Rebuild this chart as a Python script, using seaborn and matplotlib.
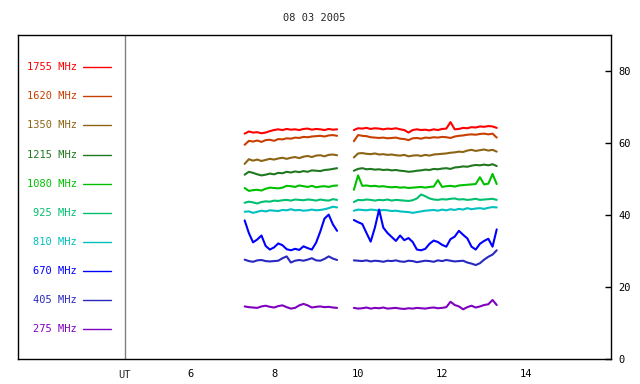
import pandas as pd
import matplotlib
matplotlib.use("Agg")
import matplotlib.pyplot as plt
import matplotlib.transforms as mtransforms
import seaborn as sns

# time grid of the two observing runs (UT hours)
t_run1 = [7.3, 7.4, 7.5, 7.6, 7.7, 7.8, 7.9, 8.0, 8.1, 8.2, 8.3, 8.4,
          8.5, 8.6, 8.7, 8.8, 8.9, 9.0, 9.1, 9.2, 9.3, 9.4, 9.5]
t_run2 = [9.9, 10.0, 10.1, 10.2, 10.3, 10.4, 10.5, 10.6, 10.7, 10.8, 10.9,
          11.0, 11.1, 11.2, 11.3, 11.4, 11.5, 11.6, 11.7, 11.8, 11.9, 12.0,
          12.1, 12.2, 12.3, 12.4, 12.5, 12.6, 12.7, 12.8, 12.9, 13.0, 13.1,
          13.2, 13.3]

freqs = ["1755", "1620", "1350", "1215", "1080", "925", "810", "670", "405", "275"]
colors = ["#ff0000", "#c84000", "#8c6414", "#207820", "#00c000",
          "#00c070", "#00c0c0", "#0000ff", "#2828c0", "#8000c0"]

f1755_a = [62.6, 63.2, 62.9, 63.0, 62.7, 62.9, 63.3, 63.6, 63.8, 63.6, 63.9, 63.7,
           63.8, 63.6, 63.9, 64.0, 63.7, 63.9, 63.8, 63.6, 63.9, 63.7, 63.8]
f1755_b = [63.6, 64.1, 64.0, 64.2, 63.9, 64.1, 64.0, 63.8, 64.0, 63.9, 64.1, 63.8,
           63.6, 62.9, 63.6, 63.8, 63.6, 63.7, 63.5, 63.8, 63.6, 63.9, 64.0, 65.8,
           63.8, 63.9, 64.2, 64.1, 64.4, 64.3, 64.6, 64.5, 64.7, 64.6, 64.2]
f1620_a = [59.5, 60.6, 60.4, 60.7, 60.3, 60.8, 60.9, 60.6, 61.1, 61.0, 61.3, 61.2,
           61.5, 61.4, 61.7, 61.6, 61.8, 61.9, 62.0, 61.8, 62.1, 62.2, 62.0]
f1620_b = [60.5, 62.2, 62.0, 61.9, 61.6, 61.5, 61.4, 61.5, 61.3, 61.4, 61.5, 61.2,
           61.1, 60.8, 61.3, 61.4, 61.2, 61.5, 61.4, 61.6, 61.5, 61.7, 61.6, 61.4,
           61.8, 62.0, 62.1, 62.3, 62.4, 62.3, 62.5, 62.6, 62.4, 62.6, 61.5]
f1350_a = [54.2, 55.5, 55.1, 55.4, 55.0, 55.3, 55.6, 55.4, 55.7, 55.9, 55.6, 55.9,
           56.1, 55.8, 56.2, 56.4, 56.1, 56.5, 56.6, 56.3, 56.7, 56.8, 56.6]
f1350_b = [56.0, 57.1, 57.2, 57.0, 56.9, 57.1, 56.8, 56.9, 56.7, 56.8, 56.6, 56.5,
           56.7, 56.3, 56.5, 56.6, 56.4, 56.7, 56.5, 56.8, 56.9, 57.0, 57.1, 57.3,
           57.4, 57.6, 57.5, 57.9, 58.1, 57.8, 58.0, 58.2, 57.9, 58.1, 57.6]
f1215_a = [51.2, 52.0, 51.7, 51.3, 51.0, 51.2, 51.5, 51.3, 51.7, 51.6, 52.0, 51.8,
           52.1, 51.9, 52.2, 52.0, 52.4, 52.3, 52.2, 52.5, 52.6, 52.8, 53.0]
f1215_b = [52.3, 52.8, 53.0, 52.7, 52.8, 52.6, 52.7, 52.5, 52.6, 52.4, 52.5, 52.3,
           52.2, 52.0, 52.1, 52.3, 52.4, 52.6, 52.5, 52.8, 52.7, 52.9, 53.0, 52.8,
           53.2, 53.3, 53.5, 53.4, 53.7, 53.9, 53.8, 54.0, 53.8, 54.1, 53.6]
f1080_a = [47.5, 46.7, 46.9, 47.0, 46.8, 47.3, 47.6, 47.5, 47.4, 47.6, 48.1, 48.0,
           47.8, 48.2, 48.0, 47.8, 48.1, 47.7, 47.9, 48.0, 47.8, 48.1, 48.2]
f1080_b = [47.0, 51.0, 48.1, 48.2, 48.0, 48.1, 47.9, 48.0, 47.8, 47.7, 47.8, 47.6,
           47.7, 47.5, 47.6, 47.7, 47.8, 47.6, 47.8, 47.9, 49.7, 47.8, 48.0, 48.1,
           47.9, 48.2, 48.3, 48.4, 48.5, 48.6, 50.5, 48.5, 48.7, 51.4, 48.6]
f925_a = [43.4, 43.7, 43.5, 43.2, 43.6, 43.8, 43.7, 44.0, 43.9, 44.1, 44.2, 44.0,
          44.3, 44.2, 44.1, 44.3, 44.2, 44.0, 44.3, 44.1, 44.0, 44.4, 44.2]
f925_b = [43.6, 44.2, 44.1, 44.3, 44.2, 44.0, 44.2, 44.1, 44.3, 44.0, 44.2, 44.1,
          44.0, 43.9, 44.1, 44.6, 45.7, 45.2, 44.6, 44.3, 44.2, 44.4, 44.3, 44.5,
          44.6, 44.3, 44.4, 44.2, 44.3, 44.5, 44.2, 44.3, 44.4, 44.5, 44.2]
f810_a = [40.9, 41.0, 40.6, 40.9, 41.2, 41.0, 41.3, 41.2, 41.1, 41.4, 41.3, 41.6,
          41.3, 41.4, 41.2, 41.3, 41.5, 41.3, 41.4, 41.6, 41.9, 42.3, 42.1]
f810_b = [41.2, 41.5, 41.4, 41.3, 41.5, 41.4, 41.2, 41.4, 41.3, 41.1, 41.2, 41.0,
          40.9, 40.8, 40.6, 40.8, 41.0, 41.2, 41.3, 41.4, 41.2, 41.5, 41.3, 41.6,
          41.4, 41.7, 41.5, 41.9, 41.6, 41.8, 41.9, 41.7, 42.0, 42.2, 42.1]
f670_a = [38.5, 35.0, 32.4, 33.2, 34.3, 31.4, 30.4, 31.0, 32.1, 31.6, 30.5, 30.2,
          30.6, 30.3, 31.3, 30.8, 30.4, 32.3, 35.4, 39.0, 40.1, 37.4, 35.6]
f670_b = [38.6, 38.0, 37.5, 35.0, 32.6, 36.5, 41.5, 36.5, 35.0, 33.9, 32.8, 34.3,
          33.0, 33.6, 32.5, 30.4, 30.2, 30.6, 32.0, 32.9, 32.5, 31.7, 31.2, 33.3,
          34.0, 35.6, 34.5, 33.5, 31.2, 30.4, 32.0, 32.8, 33.4, 31.2, 36.0]
f405_a = [27.6, 27.2, 27.0, 27.4, 27.5, 27.2, 27.1, 27.2, 27.3, 28.0, 28.5, 26.8,
          27.3, 27.5, 27.3, 27.6, 28.0, 27.4, 27.3, 27.8, 28.5, 27.9, 27.5]
f405_b = [27.4, 27.3, 27.2, 27.4, 27.1, 27.3, 27.2, 27.0, 27.3, 27.2, 27.4, 27.1,
          27.0, 27.3, 27.2, 26.9, 27.1, 27.3, 27.2, 27.0, 27.4, 27.2, 27.5, 27.3,
          27.1, 27.2, 27.3, 26.8, 26.5, 26.1, 26.6, 27.6, 28.4, 29.0, 30.2]
f275_a = [14.6, 14.4, 14.3, 14.2, 14.6, 14.8, 14.5, 14.3, 14.7, 14.9, 14.4, 14.0,
          14.2, 14.9, 15.3, 14.9, 14.3, 14.5, 14.6, 14.4, 14.5, 14.3, 14.2]
f275_b = [14.2, 14.0, 14.1, 14.3, 14.0, 14.2, 14.1, 14.3, 14.0, 14.1, 14.2, 14.0,
          13.9, 14.1, 14.0, 14.2, 14.1, 14.0, 14.2, 14.3, 14.1, 14.2, 14.4, 15.9,
          15.0, 14.6, 13.8, 14.4, 14.8, 14.3, 14.6, 15.0, 15.2, 16.4, 15.0]

runs = {
    "1755": (f1755_a, f1755_b), "1620": (f1620_a, f1620_b),
    "1350": (f1350_a, f1350_b), "1215": (f1215_a, f1215_b),
    "1080": (f1080_a, f1080_b), "925": (f925_a, f925_b),
    "810": (f810_a, f810_b), "670": (f670_a, f670_b),
    "405": (f405_a, f405_b), "275": (f275_a, f275_b),
}

rows = []
for f in freqs:
    a, b = runs[f]
    rows += [(f, 1, t, v) for t, v in zip(t_run1, a)]
    rows += [(f, 2, t, v) for t, v in zip(t_run2, b)]
df = pd.DataFrame(rows, columns=["freq", "run", "ut", "flux"])

sns.set_style("white")
plt.rcParams["font.family"] = ["DejaVu Sans Mono"]
plt.rcParams["font.size"] = 7.5

fig = plt.figure(figsize=(6.4, 3.84), dpi=100)
ax = fig.add_axes([18 / 640, 25 / 384, 593 / 640, 324 / 384])

sns.lineplot(data=df, x="ut", y="flux", hue="freq", units="run",
             estimator=None, sort=False, palette=dict(zip(freqs, colors)),
             hue_order=freqs, legend=False, linewidth=1.5, ax=ax)

ax.set_xlim(1.905, 16.02)
ax.set_ylim(0, 90)
ax.set_xticks([6, 8, 10, 12, 14])
ax.set_yticks([0, 20, 40, 60, 80])
ax.yaxis.tick_right()
ax.tick_params(axis="both", direction="in", length=4, width=1, color="black",
               labelsize=7.5, labelcolor="black")
ax.tick_params(axis="x", pad=7)
ax.tick_params(axis="y", pad=5)
ax.set_xlabel("")
ax.set_ylabel("")
for side in ["left", "right", "bottom", "top"]:
    ax.spines[side].set_color("black")
    ax.spines[side].set_linewidth(1)

# divider between the legend column and the data area
ax.axvline(4.45, color="#808080", lw=1)
trans = mtransforms.blended_transform_factory(ax.transData, ax.transAxes)
ax.text(4.45, -0.035, "UT", transform=trans, ha="center", va="top")

# manual legend on the left
for i, (f, c) in enumerate(zip(freqs, colors)):
    y = 81.1 - i * 8.1
    ax.text(3.31, y, f"{f} MHz", color=c, ha="right", va="center")
    ax.plot([3.45, 4.12], [y, y], color=c, lw=1)

ax.set_title("08 03 2005", fontsize=7.5, pad=10)

fig.savefig("out.png", dpi=100)
